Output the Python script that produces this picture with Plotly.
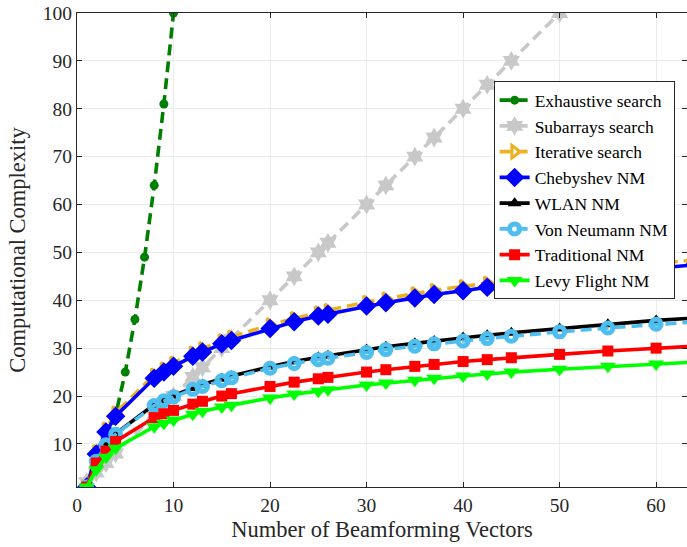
import plotly.graph_objects as go

# Sample counts (number of beamforming vectors) used by the search methods
x_nm = [1, 2, 3, 4, 8, 9, 10, 12, 13, 15, 16, 20, 22.5, 25, 26, 30, 32, 35, 37,
        40, 42.5, 45, 50, 55, 60, 64]
x_exh = [1, 2, 3, 4, 5, 6, 7, 8, 9, 10]
x_sub = [1, 2, 3, 4, 8, 9, 10, 12, 13, 15, 16, 20, 22.5, 25, 26, 30, 32, 35, 37,
         40, 42.5, 45, 50, 55]

exhaustive = [1, 4, 9, 16, 25, 36, 49, 64, 81, 100]
subarrays = [2, 4, 6, 8, 16, 18, 20, 24, 26, 30, 32, 40, 45, 50, 52, 60, 64, 70, 74,
             80, 85, 90, 100, 110]
iterative = [1, 8.4, 13.1, 16.5, 24.4, 25.7, 26.9, 29.0, 29.9, 31.6, 32.3, 34.9, 36.2,
             37.4, 37.9, 39.6, 40.3, 41.4, 42.1, 42.9, 43.6, 44.3, 45.5, 46.7, 47.7, 48.4]
chebyshev = [1, 7.9, 12.5, 15.8, 23.7, 25.0, 26.2, 28.3, 29.2, 30.9, 31.6, 34.1, 35.5,
             36.7, 37.1, 38.8, 39.5, 40.5, 41.2, 42.0, 42.7, 43.4, 44.6, 45.7, 46.7, 47.4]
wlan = [1, 6.1, 9.6, 12.1, 18.2, 19.2, 20.1, 21.7, 22.4, 23.6, 24.2, 26.1, 27.2, 28.1,
        28.4, 29.7, 30.3, 31.0, 31.5, 32.2, 32.7, 33.2, 34.1, 35.0, 35.8, 36.3]
von_neumann = [1, 6.4, 9.8, 12.0, 18.0, 19.0, 19.8, 21.4, 22.0, 23.2, 23.8, 25.8, 26.8,
               27.6, 27.9, 29.1, 29.7, 30.4, 30.9, 31.5, 32.0, 32.5, 33.4, 34.2, 35.0, 35.5]
traditional = [1, 6.0, 8.5, 10.5, 15.5, 16.3, 17.0, 18.3, 18.9, 20.0, 20.5, 22.0, 22.9,
               23.6, 23.9, 25.0, 25.5, 26.2, 26.6, 27.2, 27.6, 28.0, 28.7, 29.4, 30.0, 30.4]
levy = [1, 4.6, 7.2, 9.1, 13.6, 14.3, 15.0, 16.2, 16.8, 17.7, 18.1, 19.6, 20.4, 21.0,
        21.3, 22.3, 22.7, 23.3, 23.7, 24.2, 24.6, 25.0, 25.6, 26.2, 26.7, 27.1]

x_ticks = [0, 10, 20, 30, 40, 50, 60]
y_ticks = [10, 20, 30, 40, 50, 60, 70, 80, 90, 100]

DASH = "11px,6px"

series = [
    dict(name="Exhaustive search", x=x_exh, y=exhaustive, color="#007F00", dash=DASH,
         symbol="circle", size=9, mline=0),
    dict(name="Subarrays search", x=x_sub, y=subarrays, color="#C8C8C8", dash=DASH,
         symbol="hexagram", size=15, mline=0),
    dict(name="Iterative search", x=x_nm, y=iterative, color="#EDB120", dash=DASH,
         symbol="triangle-right-open", size=11, mline=3),
    dict(name="Chebyshev NM", x=x_nm, y=chebyshev, color="#0000FF", dash="solid",
         symbol="diamond", size=15, mline=0),
    dict(name="WLAN NM", x=x_nm, y=wlan, color="#000000", dash="solid",
         symbol="triangle-up", size=12, mline=0),
    dict(name="Von Neumann NM", x=x_nm, y=von_neumann, color="#4DBEEE", dash=DASH,
         symbol="circle-open", size=10, mline=5),
    dict(name="Traditional NM", x=x_nm, y=traditional, color="#FF0000", dash="solid",
         symbol="square", size=11, mline=0),
    dict(name="Levy Flight NM", x=x_nm, y=levy, color="#00FF00", dash="solid",
         symbol="triangle-down", size=14, mline=0),
]

fig = go.Figure()
for s in series:
    fig.add_trace(go.Scatter(
        x=s["x"], y=s["y"], name=s["name"], mode="lines+markers",
        line=dict(color=s["color"], width=3.6, dash=s["dash"]),
        marker=dict(symbol=s["symbol"], size=s["size"], color=s["color"],
                    line=dict(color=s["color"], width=s["mline"])),
    ))

font_family = "Liberation Serif, Times New Roman, serif"

fig.update_layout(
    width=687, height=547,
    margin=dict(l=77, r=0, t=13, b=60),
    paper_bgcolor="white", plot_bgcolor="white",
    font=dict(family=font_family, size=19.5, color="#262626"),
    showlegend=True,
    legend=dict(
        x=0.683, y=0.856, xanchor="left", yanchor="top",
        bgcolor="white", bordercolor="#262626", borderwidth=1,
        font=dict(family=font_family, size=17.5, color="#000000"),
        tracegroupgap=0, itemsizing="trace",
    ),
    xaxis=dict(
        range=[0, 63.2], tickvals=x_ticks, ticktext=[str(v) for v in x_ticks],
        showgrid=True, gridcolor="#EBEBEB", gridwidth=1, zeroline=False,
        showline=True, linecolor="#262626", linewidth=1.2, mirror="ticks",
        ticks="inside", ticklen=5, tickcolor="#262626",
        title=dict(text="Number of Beamforming Vectors", font=dict(size=22.5), standoff=6),
        tickfont=dict(size=19.5),
    ),
    yaxis=dict(
        range=[1, 100], tickvals=y_ticks, ticktext=[str(v) for v in y_ticks],
        showgrid=True, gridcolor="#EBEBEB", gridwidth=1, zeroline=False,
        showline=True, linecolor="#262626", linewidth=1.2, mirror="ticks",
        ticks="inside", ticklen=5, tickcolor="#262626",
        title=dict(text="Computational Complexity", font=dict(size=22.5), standoff=10),
        tickfont=dict(size=19.5),
    ),
)

fig.write_html("out.html")
